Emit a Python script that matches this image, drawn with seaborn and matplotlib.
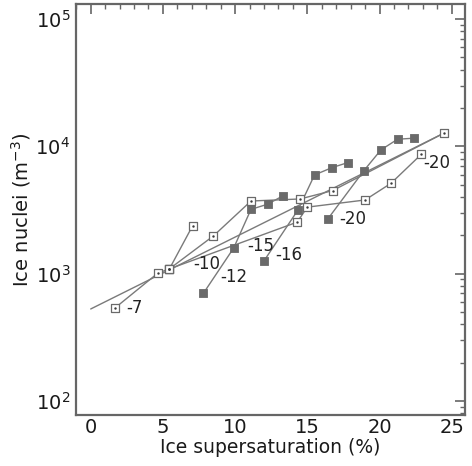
import matplotlib
matplotlib.use("Agg")
import matplotlib.pyplot as plt
import seaborn as sns
import pandas as pd
from matplotlib.ticker import MultipleLocator, LogLocator, LogFormatterSciNotation, NullFormatter

# ---------------- data ----------------
# open squares
o7_x = [1.7, 4.65, 5.45, 7.05]
o7_y = [540, 1010, 1090, 2370]
oup_x = [5.45, 8.5, 11.1, 14.5, 16.75, 24.45]
oup_y = [1090, 1980, 3720, 3860, 4490, 12680]
olow_x = [5.45, 14.3, 15.0, 19.0, 20.8, 22.9]
olow_y = [1090, 2540, 3330, 3790, 5130, 8670]
# filled squares
f12_x = [7.8, 9.9, 11.1, 12.25, 13.3]
f12_y = [700, 1590, 3200, 3510, 4080]
f16_x = [12.0, 14.35, 15.5, 16.7, 17.8]
f16_y = [1260, 3160, 5960, 6800, 7450]
f20_x = [16.4, 18.9, 20.1, 21.25, 22.4]
f20_y = [2670, 6410, 9380, 11370, 11590]
# fitted line (end points)
fit_x = [0.0, 24.45]
fit_y = [528, 12680]

# labels: text, series, point index
label_text = ["-7", "-10", "-12", "-15", "-16", "-20", "-20"]
label_series = ["o7", "olow", "f12", "f12", "f16", "f20", "olow"]
label_index = [0, 0, 0, 1, 0, 0, 5]

xticks = [0, 5, 10, 15, 20, 25]

series = {
    "o7": (o7_x, o7_y, "open"),
    "oup": (oup_x, oup_y, "open"),
    "olow": (olow_x, olow_y, "open"),
    "f12": (f12_x, f12_y, "filled"),
    "f16": (f16_x, f16_y, "filled"),
    "f20": (f20_x, f20_y, "filled"),
}

# ---------------- style ----------------
sns.set_style("white")
plt.rcParams["font.family"] = ["DejaVu Sans"]
plt.rcParams["mathtext.fontset"] = "dejavusans"

DPI = 100
W, H = 472, 466
fig = plt.figure(figsize=(W / DPI, H / DPI), dpi=DPI)
left, right, top, bottom = 75.7, 465, 4, 415
ax = fig.add_axes([left / W, 1 - bottom / H, (right - left) / W, (bottom - top) / H])

line_col = "#7a7a7a"
mark_col = "#6a6a6a"
spine_col = "#666666"

# fit line
sns.lineplot(x=fit_x, y=fit_y, ax=ax, color=line_col, lw=1.0, sort=False, zorder=2)

for key, (xs, ys, kind) in series.items():
    df = pd.DataFrame({"x": xs, "y": ys})
    sns.lineplot(data=df, x="x", y="y", ax=ax, color=line_col, lw=1.0, sort=False, zorder=2)
    if kind == "open":
        sns.scatterplot(data=df, x="x", y="y", ax=ax, marker="s", s=40,
                        facecolor="white", edgecolor=mark_col, linewidth=0.9, zorder=4)
        sns.scatterplot(data=df, x="x", y="y", ax=ax, marker="o", s=3,
                        color="#3a3a3a", linewidth=0, zorder=5)
    else:
        sns.scatterplot(data=df, x="x", y="y", ax=ax, marker="s", s=40,
                        color=mark_col, edgecolor=mark_col, linewidth=0.6, zorder=4)

# labels (offsets in pixels -> points)
label_offsets_px = [(11, 0), (24, 5), (17, 16), (14, 2), (11, 6), (12, 0), (2, -9)]
for txt, key, idx, (dx, dy) in zip(label_text, label_series, label_index, label_offsets_px):
    xs, ys, _ = series[key]
    ax.annotate(txt, (xs[idx], ys[idx]), xytext=(dx * 0.72, dy * 0.72),
                textcoords="offset points", ha="left", va="center",
                fontsize=12, color="#222222", zorder=6)

# axes
ax.set_yscale("log")
ax.set_xlim(-1.04, 25.92)
ax.set_ylim(77.6, 131200)
ax.set_xticks(xticks)
ax.xaxis.set_minor_locator(MultipleLocator(1))
ax.yaxis.set_major_locator(LogLocator(base=10, numticks=10))
ax.yaxis.set_minor_locator(LogLocator(base=10, subs=range(2, 10), numticks=20))
ax.yaxis.set_major_formatter(LogFormatterSciNotation())
ax.yaxis.set_minor_formatter(NullFormatter())

ax.tick_params(which="both", direction="in", top=True, right=True,
               color=spine_col, labelcolor="#1a1a1a", labelsize=14)
ax.tick_params(which="major", length=7.5, width=1.2)
ax.tick_params(which="minor", length=3.5, width=1.0)
ax.tick_params(axis="x", which="major", pad=2)
ax.tick_params(axis="y", which="major", pad=4)

for sp in ax.spines.values():
    sp.set_color(spine_col)
    sp.set_linewidth(1.6)

ax.set_xlabel("Ice supersaturation (%)", fontsize=13.5, color="#1a1a1a", labelpad=1)
ax.set_ylabel("Ice nuclei (m$^{-3}$)", fontsize=14, color="#1a1a1a", labelpad=2)

fig.savefig("out.png", dpi=DPI)
